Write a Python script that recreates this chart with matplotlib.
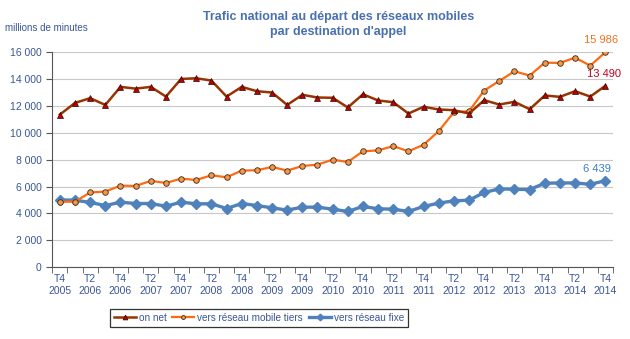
import matplotlib.pyplot as plt
import numpy as np

plt.rcParams['font.family'] = ['Liberation Sans', 'DejaVu Sans']

# quarterly labels T4 2005 .. T4 2014
quarters = []
for y in range(2005, 2015):
    for q in range(1, 5):
        if (y == 2005 and q < 4):
            continue
        quarters.append("T%d\n%d" % (q, y))

on_net = [11350, 12220, 12570, 12070, 13410, 13280, 13410, 12690, 14000, 14050,
          13880, 12690, 13410, 13090, 12990, 12070, 12820, 12620, 12600, 11880,
          12860, 12400, 12270, 11430, 11930, 11730, 11680, 11430, 12420, 12100,
          12300, 11750, 12770, 12670, 13090, 12690, 13490]
mobile_tiers = [4870, 4880, 5560, 5630, 6070, 6050, 6420, 6270, 6590, 6490,
                6840, 6690, 7190, 7210, 7460, 7190, 7530, 7630, 8000, 7830,
                8620, 8690, 9010, 8620, 9110, 10120, 11530, 11600, 13140, 13850,
                14570, 14250, 15210, 15190, 15580, 14990, 15986]
fixe = [5010, 4990, 4820, 4590, 4840, 4740, 4740, 4540, 4840, 4720,
        4720, 4370, 4740, 4590, 4420, 4250, 4470, 4470, 4320, 4150,
        4520, 4350, 4320, 4150, 4520, 4770, 4940, 4990, 5560, 5830,
        5800, 5780, 6250, 6270, 6270, 6170, 6439]

text_col = "#3A5596"
x = np.arange(len(quarters))

fig = plt.figure(figsize=(6.3, 3.39), dpi=100)
ax = fig.add_axes([0.083, 0.2115, 0.89, 0.635])

ax.plot(x, fixe, color="#4F81BD", lw=2.4, marker="D", ms=4.8, mfc="#4F81BD",
        mec="#4F81BD", label="vers réseau fixe", zorder=3)
ax.plot(x, mobile_tiers, color="#FF6A10", lw=1.6, marker="o", ms=4, mfc="#F79646",
        mec="#3a2a1a", mew=0.6, label="vers réseau mobile tiers", zorder=4)
ax.plot(x, on_net, color="#993300", lw=1.8, marker="^", ms=5, mfc="#C00000",
        mec="#2a0a00", mew=0.5, label="on net", zorder=5)

ax.set_xlim(-0.5, len(quarters) - 0.5)
ax.set_ylim(0, 16000)
yt = np.arange(0, 16001, 2000)
ax.set_yticks(yt)
ax.set_yticklabels([("%d" % v) if v < 1000 else "%d %03d" % (v // 1000, v % 1000) for v in yt],
                   color=text_col, fontsize=7.5)
ax.yaxis.grid(True, color="#C8C8C8", lw=0.8)
ax.set_axisbelow(True)

ax.set_xticks(x[::2])
ax.set_xticklabels(quarters[::2], color=text_col, fontsize=7.5, linespacing=1.25)
ax.set_xticks(np.arange(-0.5, len(quarters)), minor=True)
ax.tick_params(axis="x", which="major", length=0, pad=5)
ax.tick_params(axis="x", which="minor", length=4, color="#555555", direction="out")
ax.tick_params(axis="y", length=4, color="#555555", direction="out")

for s in ["top", "right"]:
    ax.spines[s].set_visible(False)
ax.spines["left"].set_color("#555555")
ax.spines["bottom"].set_color("#555555")

ax.annotate("15 986", (x[-1], mobile_tiers[-1]), xytext=(-3, 5), textcoords="offset points",
            ha="center", va="bottom", color="#F07020", fontsize=8)
ax.annotate("13 490", (x[-1], on_net[-1]), xytext=(-1, 5), textcoords="offset points",
            ha="center", va="bottom", color="#C00020", fontsize=8)
ax.annotate("6 439", (x[-1], fixe[-1]), xytext=(-6, 5), textcoords="offset points",
            ha="center", va="bottom", color="#3D7CC9", fontsize=8)

fig.text(0.537, 0.968, "Trafic national au départ des réseaux mobiles\npar destination d'appel",
         ha="center", va="top", color="#4A70B0", fontsize=9, fontweight="bold", linespacing=1.35)
fig.text(0.008, 0.918, "millions de minutes", ha="left", va="center", color=text_col, fontsize=7)

h, l = ax.get_legend_handles_labels()
order = [2, 1, 0]
leg = fig.legend([h[i] for i in order], [l[i] for i in order], loc="center",
                 bbox_to_anchor=(0.411, 0.062), ncol=3, fontsize=7.2, frameon=True,
                 fancybox=False, edgecolor="black", handlelength=2.2, handletextpad=0.3,
                 columnspacing=0.6, borderpad=0.38, markerscale=0.7)
leg.get_frame().set_linewidth(0.9)
for t in leg.get_texts():
    t.set_color(text_col)

fig.savefig("out.png", dpi=100)
